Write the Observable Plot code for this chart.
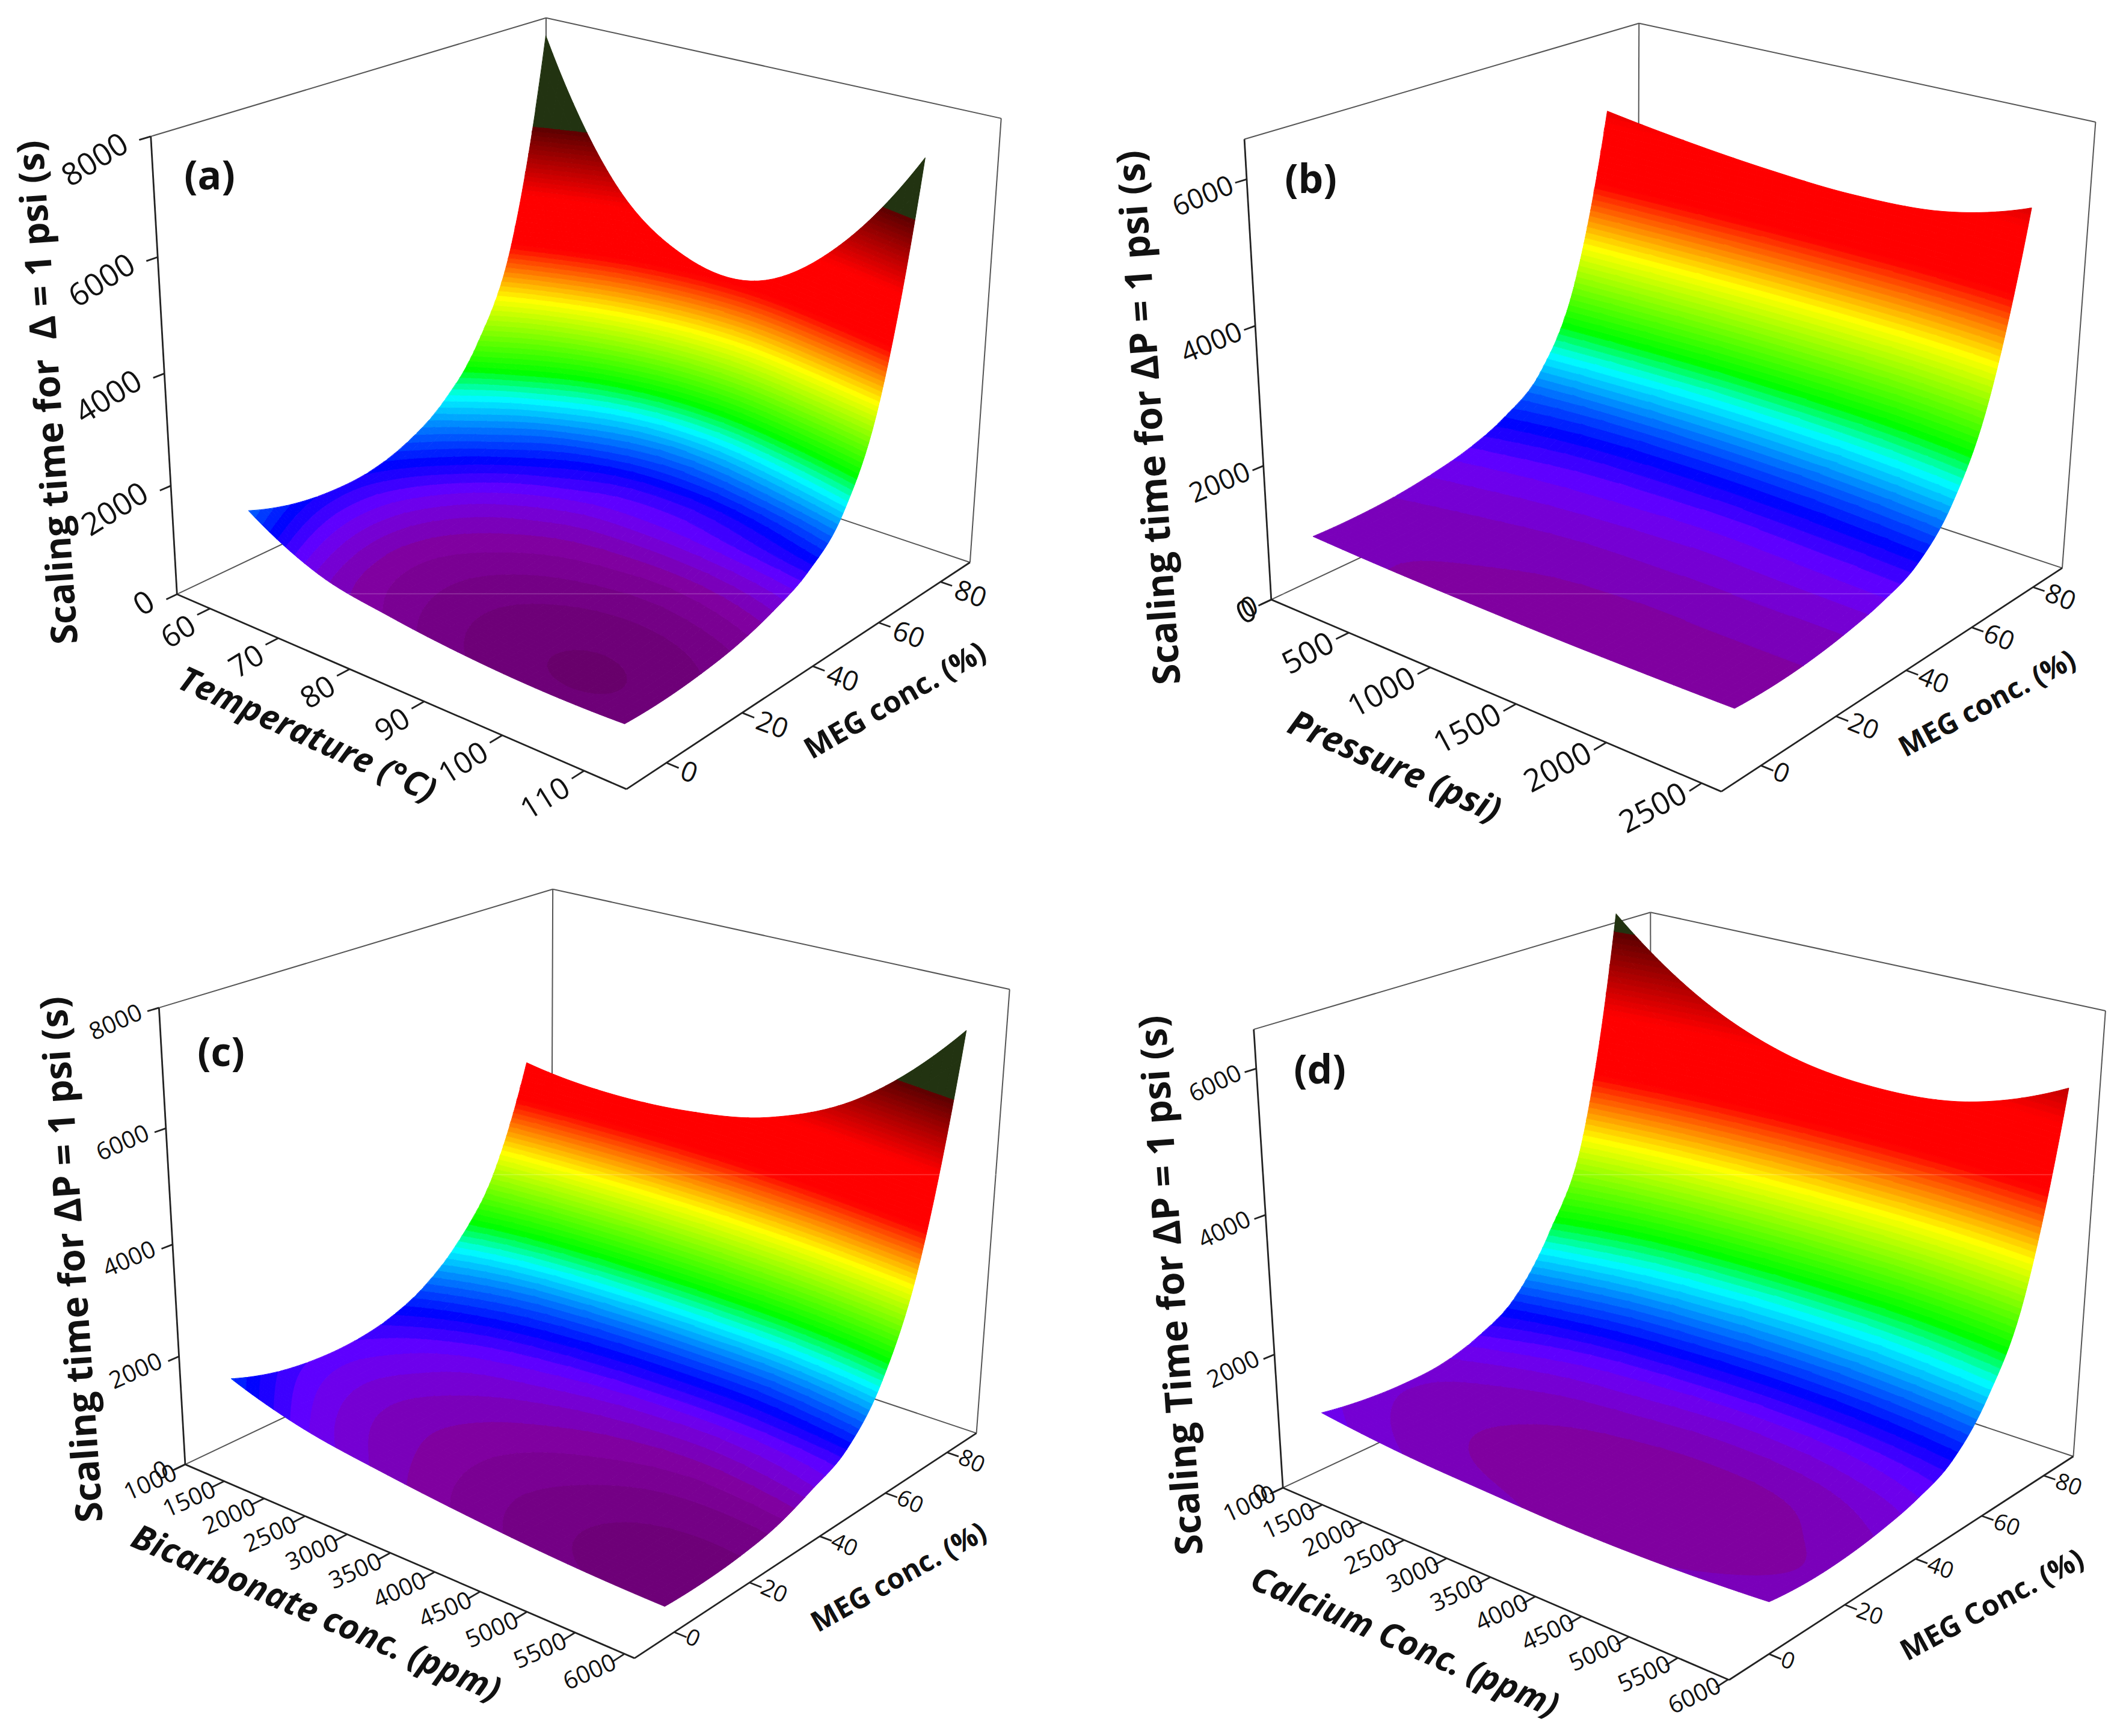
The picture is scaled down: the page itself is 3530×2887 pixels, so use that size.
<!DOCTYPE html>
<html><head><meta charset="utf-8">
<style>html,body{margin:0;padding:0;background:#fff}svg{display:block}</style>
<script src="https://cdn.jsdelivr.net/npm/d3@7"></script>
<script src="https://cdn.jsdelivr.net/npm/@observablehq/plot@0.6"></script>
</head><body><div id="chart"></div>
<script>
// ---- values (scaling time, s; rows = MEG %, columns = second variable)
const megRows = [0,10,20,30,40,50,60,70,80];
const megTicks = [0,20,40,60,80];

const tempCols = [60,70,80,90,100,110];
const tempTicks = [60,70,80,90,100,110];
const tempTime = [
 [1440,780,540,400,340,365],
 [1200,690,480,360,310,350],
 [1100,670,480,380,340,400],
 [1130,730,550,460,440,510],
 [1350,880,680,610,610,720],
 [1800,1170,900,860,920,1050],
 [2650,1700,1250,1170,1350,1750],
 [4300,2900,2200,2150,2650,3500],
 [8000,5600,4580,4500,5500,7400]];

const pressCols = [15,500,1000,1500,2000,2460];
const pressTicks = [0,500,1000,1500,2000,2500];
const pressTime = [
 [680,640,620,610,620,640],
 [680,650,630,620,620,620],
 [720,690,660,650,650,650],
 [810,770,740,730,730,730],
 [950,890,860,840,850,860],
 [1200,1090,1050,1040,1060,1100],
 [1650,1550,1500,1500,1560,1700],
 [2800,2650,2550,2550,2650,2950],
 [5360,5200,5080,5020,5100,5450]];

const bicarbCols = [1100,2000,3000,4000,5000,6000];
const bicarbTicks = [1000,1500,2000,2500,3000,3500,4000,4500,5000,5500,6000];
const bicarbTime = [
 [1300,900,680,520,410,370],
 [1060,780,620,480,380,355],
 [950,740,610,500,410,400],
 [950,780,660,570,500,520],
 [1080,880,780,700,680,780],
 [1400,1150,1030,980,990,1120],
 [2000,1700,1580,1560,1640,2000],
 [3000,2850,2800,2900,3200,3850],
 [4950,4800,4850,5150,5950,7500]];

const calciumCols = [1000,2000,3000,4000,5000,6000];
const calciumTicks = [1000,1500,2000,2500,3000,3500,4000,4500,5000,5500,6000];
const calciumTime = [
 [850,720,660,620,640,720],
 [760,660,610,600,600,660],
 [730,650,610,600,610,670],
 [770,690,640,620,640,740],
 [950,810,760,730,760,870],
 [1300,1080,990,960,1000,1120],
 [2100,1700,1550,1500,1560,1750],
 [3400,2850,2600,2520,2600,2950],
 [6650,5700,5170,5000,5120,5650]];

const timeTicks8000 = [0,2000,4000,6000,8000];
const timeTicks6000 = [0,2000,4000,6000];

// colour ramp of the surface
const rampStops  = [250,600,800,900,1150,1900,2280,3400,4300,5200,6400,6400.5,99999];
const rampColors = ["#660066","#8000a0","#7200e0","#6600ff","#0000ff","#00ffff","#00ff00","#ffff00","#ff0000","#ff0000","#5a0000","#223311","#223311"];
const bandStep = 80, bandTop = 6400;

// ---- page layout: the box corners of each 3-D panel, on the 3530x2887 page
const panels = [
 {letter:"(a)", letterAt:[348,293], cols:tempCols, grid:tempTime, xTicks:tempTicks, zTicks:timeTicks8000,
  xlo:55, xhi:115, zhi:8000,
  L0:[291,987],F0:[1042,1312],R0:[1610,935],B0:[910,697],L1:[252.5,227],B1:[904,29],R1:[1666,196],
  zTitle:"Scaling time for  Δ = 1 psi (s)", zTitleSize:61, zTitleAt:[80,652], xTitle:"Temperature (°C)", xTitleSize:57, xTitleAt:[510,1222], xTitleRot:24.5,
  mTitle:"MEG conc. (%)", mTitleSize:49, mTitleAt:[1488,1165], mTitleRot:-30,
  zL:{dx:-42,dy:8,rot:-32,size:52}, xL:{dx:-28,dy:24,rot:-32,size:50}, mL:{dx:25,dy:12,rot:20,size:46}},
 {letter:"(b)", letterAt:[2179,299], cols:pressCols, grid:pressTime, xTicks:pressTicks, zTicks:timeTicks6000,
  xlo:0, xhi:2600, zhi:6530,
  L0:[2112,993],F0:[2861.5,1319],R0:[3428,940],B0:[2724,714],L1:[2070,232],B1:[2723,36],R1:[3484.5,204],
  zTitle:"Scaling time for ΔP = 1 psi (s)", zTitleSize:63, zTitleAt:[1911,694], xTitle:"Pressure (psi)", xTitleSize:59, xTitleAt:[2318,1275], xTitleRot:23.7,
  mTitle:"MEG conc. (%)", mTitleSize:47, mTitleAt:[3304,1170], mTitleRot:-28,
  zL:{dx:-24,dy:8,rot:-23,size:46}, xL:{dx:-28,dy:14,rot:-28,size:52}, mL:{dx:22,dy:8,rot:22,size:44}},
 {letter:"(c)", letterAt:[367,1751], cols:bicarbCols, grid:bicarbTime, xTicks:bicarbTicks, zTicks:timeTicks8000,
  xlo:1000, xhi:6100, zhi:8000,
  L0:[306,2433.5],F0:[1055,2758],R0:[1622,2382],B0:[918,2147],L1:[265,1676],B1:[917,1477.5],R1:[1679,1645],
  zTitle:"Scaling time for ΔP = 1 psi (s)", zTitleSize:62, zTitleAt:[120,2094], xTitle:"Bicarbonate conc. (ppm)", xTitleSize:57.5, xTitleAt:[525,2683], xTitleRot:23.2,
  mTitle:"MEG conc. (%)", mTitleSize:47, mTitleAt:[1494,2623], mTitleRot:-29,
  zL:{dx:-30,dy:6,rot:-24,size:40}, xL:{dx:-16,dy:12,rot:-24,size:40}, mL:{dx:21,dy:6,rot:24,size:38}},
 {letter:"(d)", letterAt:[2194,1780], cols:calciumCols, grid:calciumTime, xTicks:calciumTicks, zTicks:timeTicks6000,
  xlo:1000, xhi:6010, zhi:6520,
  L0:[2129.6,2469],F0:[2875,2797],R0:[3445,2417],B0:[2748,2192],L1:[2087,1713],B1:[2740,1514],R1:[3502,1682],
  zTitle:"Scaling Time for ΔP = 1 psi (s)", zTitleSize:63, zTitleAt:[1948,2137], xTitle:"Calcium Conc. (ppm)", xTitleSize:57, xTitleAt:[2335,2731], xTitleRot:23.2,
  mTitle:"MEG Conc. (%)", mTitleSize:48, mTitleAt:[3312,2669], mTitleRot:-28.3,
  zL:{dx:-27,dy:5,rot:-26,size:40}, xL:{dx:-14,dy:8,rot:-25,size:40}, mL:{dx:21,dy:8,rot:20,size:38}}
];

// ---- perspective camera fitted to the box corners
function solve(A,b){
  const n=b.length, M=A.map((r,i)=>[...r,b[i]]);
  for(let c=0;c<n;c++){
    let p=c; for(let r=c+1;r<n;r++) if(Math.abs(M[r][c])>Math.abs(M[p][c])) p=r;
    [M[c],M[p]]=[M[p],M[c]];
    for(let r=0;r<n;r++){ if(r===c) continue; const f=M[r][c]/M[c][c]; for(let k=c;k<=n;k++) M[r][k]-=f*M[c][k]; }
  }
  return M.map((r,i)=>r[n]/r[i]);
}
function camera(p){
  const pts=[[0,0,0,p.L0],[1,0,0,p.F0],[1,1,0,p.R0],[0,1,0,p.B0],[0,0,1,p.L1],[0,1,1,p.B1],[1,1,1,p.R1]];
  const rows=[],rhs=[];
  for(const [u,v,w,[sx,sy]] of pts){
    const X=sx/1000,Y=sy/1000;
    rows.push([u,v,w,1,0,0,0,0,-X*u,-X*v,-X*w]); rhs.push(X);
    rows.push([0,0,0,0,u,v,w,1,-Y*u,-Y*v,-Y*w]); rhs.push(Y);
  }
  const n=11, AtA=d3.range(n).map(i=>d3.range(n).map(j=>d3.sum(rows,r=>r[i]*r[j]))), Atb=d3.range(n).map(i=>d3.sum(rows,(r,k)=>r[i]*rhs[k]));
  const h=solve(AtA,Atb);
  return (u,v,w)=>{const d=h[8]*u+h[9]*v+h[10]*w+1;
    return [1000*(h[0]*u+h[1]*v+h[2]*w+h[3])/d, 1000*(h[4]*u+h[5]*v+h[6]*w+h[7])/d];};
}

// smooth drawing of a grid row (same role as a catmull-rom curve option)
function cr(a,t){
  const n=a.length-1, i=Math.min(Math.floor(t),n-1), f=t-i;
  const g=k=>k<0?3*a[0]-3*a[1]+a[2]:k>n?3*a[n]-3*a[n-1]+a[n-2]:a[k];
  const p0=g(i-1),p1=g(i),p2=g(i+1),p3=g(i+2);
  return 0.5*(2*p1+(p2-p0)*f+(2*p0-5*p1+4*p2-p3)*f*f+(3*p1-p0-3*p2+p3)*f*f*f);
}
const SUB=10;
const levels=[...d3.range(0,bandTop+bandStep,bandStep),1e9];

function clip(poly,lo,hi){
  const cut=(pts,keep,level)=>{const out=[];
    for(let i=0;i<pts.length;i++){const a=pts[i],b=pts[(i+1)%pts.length],ka=keep(a[2]),kb=keep(b[2]);
      if(ka) out.push(a);
      if(ka!==kb){const t=(level-a[2])/(b[2]-a[2]); out.push([a[0]+t*(b[0]-a[0]),a[1]+t*(b[1]-a[1]),level]);}
    } return out;};
  let r=cut(poly,z=>z>=lo,lo); if(r.length) r=cut(r,z=>z<=hi,hi); return r;
}

const surf=[],thin=[],axis=[],tickEnd=[],tickStart=[],titles=[],italics=[],letters=[];
let polyId=0;
panels.forEach(p=>{
  const cam=camera(p), U=x=>(x-p.xlo)/(p.xhi-p.xlo), V=m=>(m+10)/100, W=z=>z/p.zhi;
  const seg=(arr,a,b)=>{const A=cam(...a),B=cam(...b);arr.push({x1:A[0],y1:A[1],x2:B[0],y2:B[1]});};
  // walls
  seg(thin,[0,1,0],[0,1,1]); seg(thin,[0,0,1],[0,1,1]); seg(thin,[0,1,1],[1,1,1]); seg(thin,[1,1,1],[1,1,0]);
  seg(thin,[0,0,0],[0,1,0]); seg(thin,[1,1,0],[0,1,0]);
  // surface
  const nx=p.cols.length-1, nm=megRows.length-1;
  const fine=[];
  for(let j=0;j<=nm*SUB;j++){const t=j/SUB, row=[];
    const mv=cr(megRows,t);
    const colVals=d3.range(nx+1).map(c=>cr(p.grid.map(r=>r[c]),t));
    for(let i=0;i<=nx*SUB;i++){const s=i/SUB, xv=cr(p.cols,s), zv=cr(colVals,s), q=cam(U(xv),V(mv),W(zv)); row.push([q[0],q[1],zv]);}
    fine.push(row);
  }
  for(let j=nm*SUB-1;j>=0;j--) for(let i=0;i<nx*SUB;i++){
    const quad=[fine[j][i],fine[j][i+1],fine[j+1][i+1],fine[j+1][i]];
    const zs=quad.map(q=>q[2]), a=d3.min(zs), b=d3.max(zs);
    for(let k=0;k<levels.length-1;k++){
      if(levels[k+1]<=a||levels[k]>=b) continue;
      const poly=clip(quad,levels[k],levels[k+1]);
      if(poly.length<3) continue;
      const mid=levels[k+1]>bandTop?7000:(levels[k]+levels[k+1])/2, id=polyId++;
      for(const q of poly) surf.push({id,px:q[0],py:q[1],z:mid});
    }
  }
  // axes
  seg(axis,[0,0,0],[1,0,0]); seg(axis,[1,0,0],[1,1,0]); seg(axis,[0,0,0],[0,0,1]);
  p.xTicks.forEach(t=>{seg(axis,[U(t),0,0],[U(t),-0.03,0]);
    const q=cam(U(t),0,0);tickEnd.push({x:q[0]+p.xL.dx,y:q[1]+p.xL.dy,text:String(t),rot:p.xL.rot,size:p.xL.size});});
  megTicks.forEach(t=>{seg(axis,[1,V(t),0],[1.024,V(t),0]);
    const q=cam(1,V(t),0);tickStart.push({x:q[0]+p.mL.dx,y:q[1]+p.mL.dy,text:String(t),rot:p.mL.rot,size:p.mL.size});});
  p.zTicks.forEach(t=>{seg(axis,[0,0,W(t)],[0,-0.025,W(t)]);
    const q=cam(0,0,W(t));tickEnd.push({x:q[0]+p.zL.dx,y:q[1]+p.zL.dy,text:String(t),rot:p.zL.rot,size:p.zL.size});});
  titles.push({x:p.zTitleAt[0],y:p.zTitleAt[1],text:p.zTitle,rot:-94,size:p.zTitleSize});
  titles.push({x:p.mTitleAt[0],y:p.mTitleAt[1],text:p.mTitle,rot:p.mTitleRot,size:p.mTitleSize});
  italics.push({x:p.xTitleAt[0],y:p.xTitleAt[1],text:p.xTitle,rot:p.xTitleRot,size:p.xTitleSize});
  letters.push({x:p.letterAt[0],y:p.letterAt[1],text:p.letter,rot:0,size:66});
});

const FONT='"Open Sans", sans-serif';
const textOpts=(extra)=>({x:"x",y:"y",text:"text",rotate:"rot",fontSize:"size",fontFamily:FONT,fill:"#111",lineAnchor:"middle",...extra});
const link=(data,extra)=>Plot.link(data,{x1:"x1",y1:"y1",x2:"x2",y2:"y2",...extra});

const chart=Plot.plot({
  width:3530,height:2887,margin:0,
  x:{domain:[0,3530],range:[0,3530],axis:null},
  y:{domain:[0,2887],range:[0,2887],axis:null},
  color:{type:"linear",domain:rampStops,range:rampColors,clamp:true},
  style:{background:"#fff"},
  marks:[
    link(thin,{stroke:"#555",strokeWidth:2}),
    Plot.line(surf,{x:"px",y:"py",z:"id",fill:"z",stroke:"z",strokeWidth:1,curve:"linear-closed"}),
    Plot.ruleY([987,1953],{stroke:"#fff",strokeOpacity:0.22,strokeWidth:1.5}),
    link(axis,{stroke:"#222",strokeWidth:2.8}),
    Plot.text(tickEnd,textOpts({textAnchor:"end"})),
    Plot.text(tickStart,textOpts({textAnchor:"start"})),
    Plot.text(titles,textOpts({fontWeight:"bold"})),
    Plot.text(italics,textOpts({fontWeight:"bold",fontStyle:"italic"})),
    Plot.text(letters,textOpts({fontWeight:"bold"}))
  ]
});
document.getElementById("chart").append(chart);
</script></body></html>
